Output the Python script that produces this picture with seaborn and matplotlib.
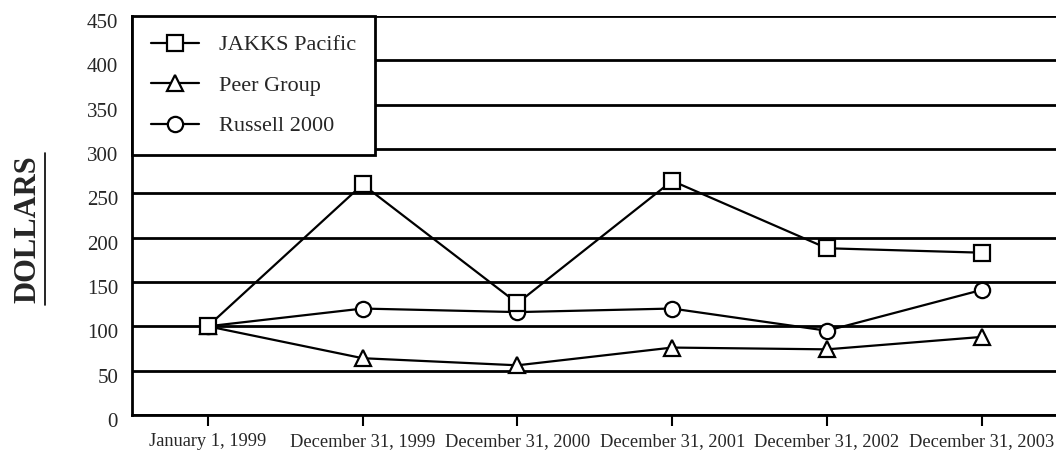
import pandas as pd
import numpy as np
import seaborn as sns
from matplotlib import pyplot as plt
from matplotlib.lines import Line2D
from matplotlib.transforms import ScaledTranslation

dates = ["January 1, 1999", "December 31, 1999", "December 31, 2000",
         "December 31, 2001", "December 31, 2002", "December 31, 2003"]
jakks = [100, 260, 126, 264, 188, 183]
peer = [100, 64, 56, 76, 74, 88]
russell = [100, 120, 116, 120, 95, 141]
series_names = ["JAKKS Pacific", "Peer Group", "Russell 2000"]
y_ticks = [0, 50, 100, 150, 200, 250, 300, 350, 400, 450]

df = pd.DataFrame({
    "date": dates * 3,
    "value": jakks + peer + russell,
    "series": np.repeat(series_names, len(dates)),
})

sns.set_style("white")
plt.rcParams["font.family"] = ["Liberation Serif", "DejaVu Serif"]

fig = plt.figure(figsize=(10.56, 4.55), dpi=100)
ax = fig.add_axes([0.125, 0.088, 0.875, 0.877])

for y in y_ticks:
    ax.axhline(y, color="black", lw=2, zorder=1)

sns.lineplot(data=df, x="date", y="value", hue="series", style="series",
             palette=["black"] * 3, markers=["s", "^", "o"], dashes=False,
             lw=1.6, markersize=11, markerfacecolor="white",
             markeredgecolor="black", markeredgewidth=1.6, ax=ax, zorder=3)

# JAKKS squares sit on top of the circles where they overlap
for line in ax.lines:
    if line.get_marker() == "s":
        line.set_zorder(4)

ax.set_xlim(-0.49, 5.48)
ax.set_ylim(0, 450)
ax.set_yticks(y_ticks)
ax.set_xlabel("")
ax.set_ylabel("")
ax.tick_params(axis="y", length=0, labelsize=15, pad=10)
ax.tick_params(axis="x", length=8, width=1.5, color="black", bottom=True,
               labelsize=13.2, pad=5)
for lab in ax.get_yticklabels():
    lab.set_transform(lab.get_transform()
                      + ScaledTranslation(0, -0.05, fig.dpi_scale_trans))
for s in ["top", "right"]:
    ax.spines[s].set_visible(False)
for s in ["left", "bottom"]:
    ax.spines[s].set_color("black")
    ax.spines[s].set_linewidth(2)

handles, labels = ax.get_legend_handles_labels()
leg = ax.legend(handles, labels, loc="upper left", bbox_to_anchor=(0, 1.0),
                borderaxespad=0, fancybox=False, framealpha=1,
                edgecolor="black", fontsize=16, handlelength=2.15,
                labelspacing=0.9, borderpad=0.85, handletextpad=0.9)
leg.get_frame().set_linewidth(2)
leg.set_zorder(5)

fig.text(0.026, 0.497, "DOLLARS", rotation=90, ha="center", va="center",
         fontsize=22, fontweight="bold")
fig.add_artist(Line2D([0.0426, 0.0426], [0.33, 0.664], color="black", lw=1.2))

fig.savefig("out.png", dpi=100)
